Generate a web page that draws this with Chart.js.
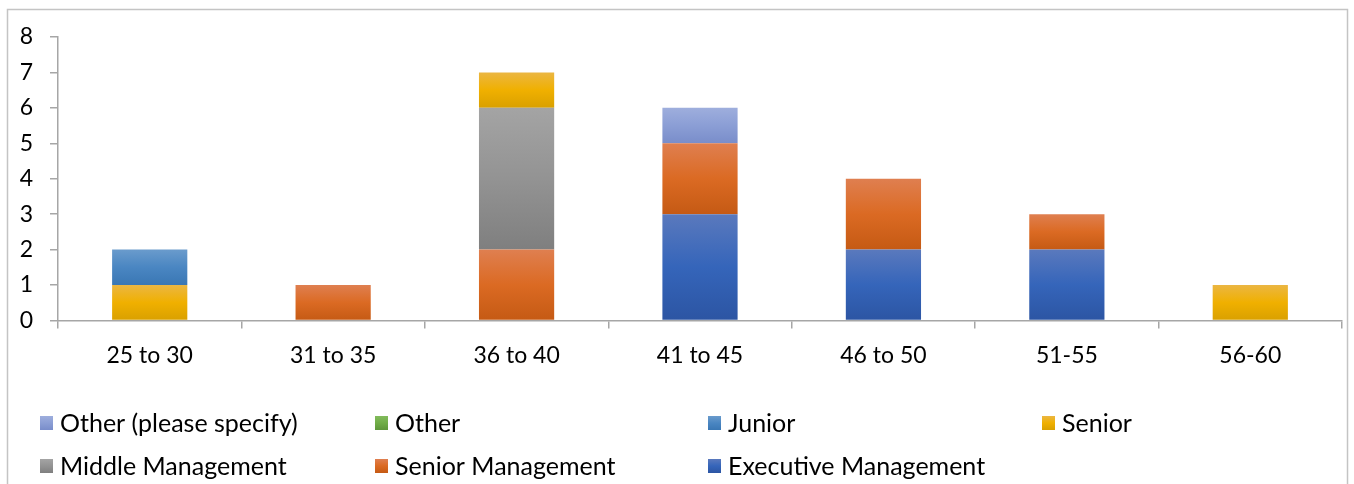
<!DOCTYPE html>
<html>
<head>
<meta charset="utf-8">
<script src="https://cdn.jsdelivr.net/npm/chart.js@4"></script>
<style>
  body { margin: 0; background: #fff; }
  canvas { display: block; }
</style>
</head>
<body>
<canvas id="ageChart" width="1354" height="484"></canvas>
<script>
var categories = ['25 to 30', '31 to 35', '36 to 40', '41 to 45', '46 to 50', '51-55', '56-60'];
var executiveMgmt = [0, 0, 0, 3, 2, 2, 0];
var seniorMgmt = [0, 1, 2, 2, 2, 1, 0];
var middleMgmt = [0, 0, 4, 0, 0, 0, 0];
var senior = [1, 0, 1, 0, 0, 0, 1];
var junior = [1, 0, 0, 0, 0, 0, 0];
var other = [0, 0, 0, 0, 0, 0, 0];
var otherSpecify = [0, 0, 0, 1, 0, 0, 0];
var yTicks = [0, 1, 2, 3, 4, 5, 6, 7, 8];

var FONT = 'Lato, "Open Sans", sans-serif';

// top / middle / bottom colours of each bar gradient
var shades = {
    exec: ['#5a79bd', '#3565ba', '#2c55a3'],
    seniorMgmt: ['#df7f50', '#db6a23', '#c55a14'],
    middle: ['#a4a4a4', '#939393', '#7f7f7f'],
    senior: ['#ebb642', '#f0b000', '#d9a000'],
    junior: ['#6a9bcc', '#4a86c2', '#3a77b4'],
    other: ['#82bb5c', '#70ad47', '#5e963a'],
    otherSpecify: ['#9eaedd', '#8b9ed5', '#798dca']
};

function makeGradient(ctx, top, bottom, s) {
    var g = ctx.createLinearGradient(0, top, 0, bottom);
    g.addColorStop(0, s[0]);
    g.addColorStop(0.5, s[1]);
    g.addColorStop(1, s[2]);
    return g;
}

// gradient spanning just the segment of the stack this bar occupies
function segmentFill(s) {
    return function (c) {
        var chart = c.chart;
        var y = chart.scales.y;
        if (c.type !== 'data' || !y) return s[1];
        var sum = 0;
        for (var d = 0; d <= c.datasetIndex; d++) {
            sum += chart.data.datasets[d].data[c.dataIndex] || 0;
        }
        var val = chart.data.datasets[c.datasetIndex].data[c.dataIndex] || 0;
        var top = y.getPixelForValue(sum);
        var base = y.getPixelForValue(sum - val);
        if (!(base > top)) return s[1];
        return makeGradient(chart.ctx, top, base, s);
    };
}

function series(label, data, s) {
    return {
        label: label,
        data: data,
        shades: s,
        backgroundColor: segmentFill(s),
        borderWidth: 0,
        categoryPercentage: 1,
        barPercentage: 0.41
    };
}

// outer chart frame
var framePlugin = {
    id: 'frame',
    beforeDraw: function (chart) {
        var ctx = chart.ctx;
        ctx.save();
        ctx.strokeStyle = '#c4c4c4';
        ctx.lineWidth = 1.5;
        ctx.strokeRect(7.5, 9.5, 1340, 490);
        ctx.restore();
    }
};

// legend laid out in a four-column grid, last series first
var gridLegend = {
    id: 'gridLegend',
    afterDraw: function (chart) {
        var ctx = chart.ctx;
        var cols = [40, 375, 708, 1042];
        var rows = [423, 466];
        var sets = chart.data.datasets.slice().reverse();
        ctx.save();
        ctx.font = '25px ' + FONT;
        ctx.textBaseline = 'middle';
        ctx.fillStyle = '#000';
        sets.forEach(function (ds, i) {
            var x = cols[i % 4];
            var y = rows[Math.floor(i / 4)];
            ctx.fillStyle = makeGradient(ctx, y - 7, y + 7, ds.shades);
            ctx.fillRect(x, y - 7, 13, 14);
            ctx.fillStyle = '#000';
            ctx.fillText(ds.label, x + 20, y + 1);
        });
        ctx.restore();
    }
};

var ctx = document.getElementById('ageChart').getContext('2d');
var myChart = new Chart(ctx, {
    type: 'bar',
    data: {
        labels: categories,
        datasets: [
            series('Executive Management', executiveMgmt, shades.exec),
            series('Senior Management', seniorMgmt, shades.seniorMgmt),
            series('Middle Management', middleMgmt, shades.middle),
            series('Senior', senior, shades.senior),
            series('Junior', junior, shades.junior),
            series('Other', other, shades.other),
            series('Other (please specify)', otherSpecify, shades.otherSpecify)
        ]
    },
    options: {
        responsive: false,
        animation: false,
        devicePixelRatio: 1,
        layout: { padding: { left: 0, right: 12, top: 37, bottom: 102 } },
        plugins: {
            legend: { display: false },
            tooltip: { enabled: false }
        },
        scales: {
            x: {
                stacked: true,
                grid: { drawOnChartArea: false, offset: true, tickLength: 8, color: '#a6a6a6', lineWidth: 1.5 },
                border: { color: '#a6a6a6', width: 1.5 },
                ticks: { color: '#000', padding: 13, font: { family: FONT, size: 23 } }
            },
            y: {
                stacked: true,
                min: 0,
                max: 8,
                afterFit: function (scale) { scale.width = 58; },
                afterBuildTicks: function (scale) {
                    scale.ticks = yTicks.map(function (v) { return { value: v }; });
                },
                grid: { drawOnChartArea: false, tickLength: 8, color: '#a6a6a6', lineWidth: 1.5 },
                border: { color: '#a6a6a6', width: 1.5 },
                ticks: { color: '#000', padding: 17, font: { family: FONT, size: 23 } }
            }
        }
    },
    plugins: [framePlugin, gridLegend]
});
</script>
</body>
</html>
